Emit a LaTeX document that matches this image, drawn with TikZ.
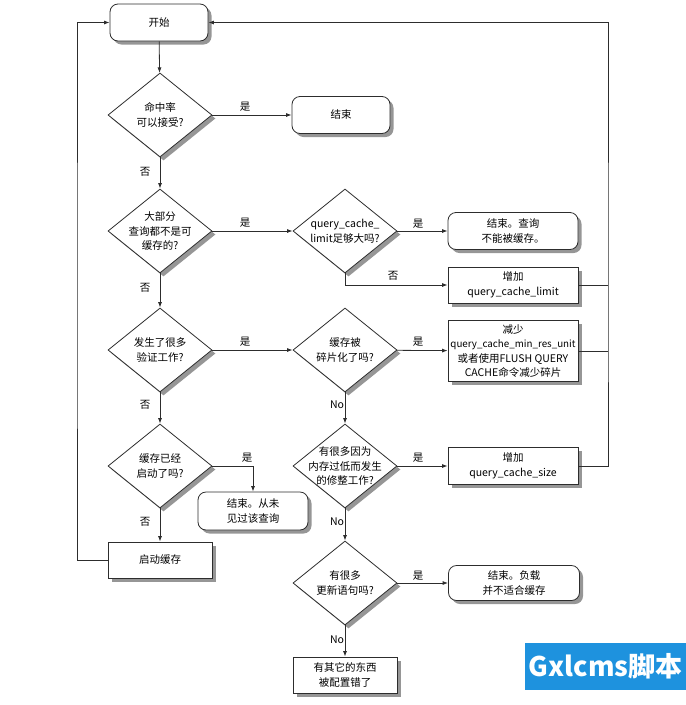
\documentclass[tikz,border=0pt]{standalone}
\usepackage{fontspec}
\setmainfont{Noto Sans CJK SC}
\usetikzlibrary{shapes.geometric,shadows,arrows.meta}
\definecolor{ln}{RGB}{45,45,45}
\definecolor{shd}{RGB}{150,150,150}
\definecolor{wm}{RGB}{30,146,222}
\begin{document}
\begin{tikzpicture}[x=1pt,y=-1pt,
  font=\fontsize{10.5}{14.5}\selectfont,
  every node/.style={inner sep=0pt},
  sh/.style={drop shadow={shadow xshift=3.5pt,shadow yshift=-3.5pt,fill=shd,opacity=1}},
  rbox/.style={draw=ln,line width=0.8pt,rounded corners=8pt,fill=white,sh,minimum height=37pt,align=center},
  sbox/.style={draw=ln,line width=0.8pt,fill=white,sh,minimum height=37pt,align=center},
  dia/.style={draw=ln,line width=0.8pt,diamond,fill=white,sh,minimum width=104pt,minimum height=84pt},
  dtxt/.style={align=center},
  conn/.style={draw=ln,line width=0.8pt,-{Latex[length=5.5pt,width=4pt]}},
  plainln/.style={draw=ln,line width=0.8pt},
  lab/.style={font=\fontsize{10.5}{12}\selectfont}
]
\useasboundingbox (0,0) rectangle (686,705);

% boxes
\node[rbox,minimum width=98pt] (start) at (159,22.5) {开始};
\node[rbox,minimum width=98pt] (end1) at (341,115) {结束};
\node[rbox,minimum width=130pt] (end2) at (513,231) {结束。查询\\不能被缓存。};
\node[sbox,minimum width=130pt,minimum height=36pt] (inc1) at (513,285) {增加\\query\_cache\_limit};
\node[sbox,minimum width=130pt,minimum height=61pt] (dec) at (513,351) {减少\\{\fontsize{9.8}{14.5}\selectfont query\_cache\_min\_res\_unit}\\或者使用FLUSH QUERY\\CACHE命令减少碎片};
\node[sbox,minimum width=130pt] (inc2) at (513,466) {增加\\query\_cache\_size};
\node[rbox,minimum width=110pt,minimum height=38pt] (end3) at (253,511) {结束。从未\\见过该查询};
\node[sbox,minimum width=104pt,minimum height=36pt] (sc) at (160,560) {启动缓存};
\node[rbox,minimum width=131pt,minimum height=35pt] (end4) at (514,583) {结束。负载\\并不适合缓存};
\node[sbox,minimum width=104pt,minimum height=36pt] (misc) at (345,675) {有其它的东西\\被配置错了};

% diamonds
\node[dia] (d1) at (160,115) {};
\node[dtxt] (d1t) at (d1) {命中率\\可以接受?};
\node[dia] (d2) at (160,231) {};
\node[dtxt] (d2t) at (d2) {大部分\\查询都不是可\\缓存的?};
\node[dia] (d3) at (345,231) {};
\node[dtxt] (d3t) at (d3) {query\_cache\_\\limit足够大吗?};
\node[dia] (d4) at (160,350) {};
\node[dtxt] (d4t) at (d4) {发生了很多\\验证工作?};
\node[dia] (d5) at (345,350) {};
\node[dtxt] (d5t) at (d5) {缓存被\\碎片化了吗?};
\node[dia] (d6) at (345,466) {};
\node[dtxt] (d6t) at (d6) {有很多因为\\内存过低而发生\\的修整工作?};
\node[dia] (d7) at (160,466) {};
\node[dtxt] (d7t) at (d7) {缓存已经\\启动了吗?};
\node[dia] (d8) at (345,583) {};
\node[dtxt] (d8t) at (d8) {有很多\\更新语句吗?};

% helper coordinates
\coordinate (lx) at (77,300);
\coordinate (rx) at (608,300);

% connectors
\draw[conn] (start) -- (d1);
\draw[conn] (d1) -- (end1);
\draw[conn] (d1) -- (d2);
\draw[conn] (d2) -- (d3);
\draw[conn] (d2) -- (d4);
\draw[conn] (d3) -- (end2);
\draw[conn] (d3.south) |- (inc1.west);
\draw[conn] (d4) -- (d5);
\draw[conn] (d4) -- (d7);
\draw[conn] (d5) -- (dec);
\draw[conn] (d5) -- (d6);
\draw[conn] (d6) -- (inc2);
\draw[conn] (d6) -- (d8);
\draw[conn] (d8) -- (end4.west |- d8.east);
\draw[conn] (d8) -- (misc);
\draw[conn] (d7.east) -| (end3.north);
\draw[conn] (d7) -- (sc);
\draw[conn] (sc.west) -| (lx) |- (start.west);
\draw[conn] (inc2.east) -| (rx) |- (start.east);
\draw[plainln] (inc1.east) -- (inc1.east -| rx);
\draw[plainln] (dec.east) -- (dec.east -| rx);

% labels
\node[lab] (l1) at (245,107) {是};
\node[lab] (l2) at (145,172) {否};
\node[lab] (l3) at (245,223) {是};
\node[lab] (l4) at (145,288) {否};
\node[lab] (l5) at (418,224) {是};
\node[lab] (l6) at (393,276) {否};
\node[lab] (l7) at (245,342) {是};
\node[lab] (l8) at (145,405) {否};
\node[lab] (l9) at (418,342) {是};
\node[lab] (l10) at (337,405) {No};
\node[lab] (l11) at (418,458) {是};
\node[lab] (l12) at (337,522) {No};
\node[lab] (l13) at (247,458) {是};
\node[lab] (l14) at (145,522) {否};
\node[lab] (l15) at (418,576) {是};
\node[lab] (l16) at (337,640) {No};

% watermark
\node[fill=wm,text=white,minimum width=161pt,minimum height=47pt,font=\fontsize{27}{30}\selectfont\bfseries] (wmk) at (605.5,666.5) {Gxlcms脚本};
\end{tikzpicture}
\end{document}
